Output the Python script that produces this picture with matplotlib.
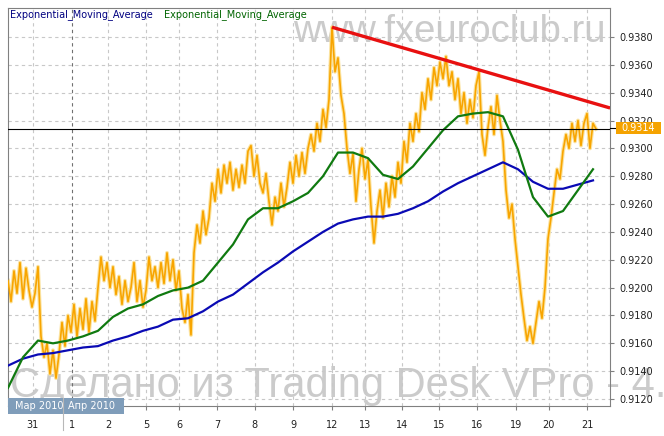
import numpy as np
import matplotlib
matplotlib.use('Agg')
import matplotlib.pyplot as plt
from matplotlib.patches import Rectangle

# close prices (one point per bar)
price = [
    0.9205, 0.9190, 0.9212, 0.9196, 0.9218, 0.9192, 0.9214, 0.9198, 0.9186, 0.9196,
    0.9215, 0.9165, 0.9150, 0.9160, 0.9138, 0.9155, 0.9135, 0.9152, 0.9175, 0.9158,
    0.9180, 0.9168, 0.9188, 0.9165, 0.9185, 0.9170, 0.9192, 0.9168, 0.9190, 0.9176,
    0.9200, 0.9222, 0.9205, 0.9218, 0.9200, 0.9215, 0.9195, 0.9208, 0.9188, 0.9205,
    0.9190, 0.9200, 0.9218, 0.9190, 0.9205, 0.9186, 0.9198, 0.9222, 0.9205, 0.9215,
    0.9200, 0.9218, 0.9203, 0.9225, 0.9205, 0.9220, 0.9198, 0.9212, 0.9185, 0.9175,
    0.9195, 0.9166, 0.9225, 0.9245, 0.9232, 0.9255, 0.9238, 0.9250, 0.9275, 0.9262,
    0.9285, 0.9268, 0.9288, 0.9275, 0.9290, 0.9270, 0.9285, 0.9272, 0.9288, 0.9275,
    0.9298, 0.9302, 0.9280, 0.9295, 0.9275, 0.9268, 0.9282, 0.9262, 0.9245, 0.9265,
    0.9255, 0.9275, 0.9258, 0.9272, 0.9290, 0.9275, 0.9295, 0.9280, 0.9297, 0.9282,
    0.9300, 0.9310, 0.9298, 0.9318, 0.9305, 0.9328, 0.9315, 0.9335, 0.9387, 0.9355,
    0.9365, 0.9338, 0.9325, 0.9300, 0.9282, 0.9296, 0.9262, 0.9285, 0.9300, 0.9278,
    0.9292, 0.9258, 0.9232, 0.9255, 0.9270, 0.9250, 0.9275, 0.9258, 0.9280, 0.9265,
    0.9290, 0.9275, 0.9305, 0.9290, 0.9318, 0.9305, 0.9325, 0.9312, 0.9340, 0.9328,
    0.9350, 0.9335, 0.9358, 0.9345, 0.9362, 0.9350, 0.9366, 0.9345, 0.9355, 0.9335,
    0.9350, 0.9325, 0.9340, 0.9318, 0.9335, 0.9322, 0.9345, 0.9355, 0.9310, 0.9295,
    0.9315, 0.9330, 0.9310, 0.9338, 0.9320, 0.9305, 0.9270, 0.9250, 0.9260, 0.9235,
    0.9215, 0.9195, 0.9178, 0.9162, 0.9172, 0.9160, 0.9175, 0.9190, 0.9178, 0.9200,
    0.9235, 0.9250, 0.9268, 0.9285, 0.9278, 0.9298, 0.9310, 0.9300, 0.9318, 0.9305,
    0.9320, 0.9302, 0.9318, 0.9325, 0.9300, 0.9318, 0.9314,
]

# EMA values, every 5 bars
ema_slow = [
    0.9144, 0.9149, 0.9152, 0.9153, 0.9155, 0.9157, 0.9158, 0.9162, 0.9165, 0.9169,
    0.9172, 0.9177, 0.9178, 0.9183, 0.9190, 0.9195, 0.9203, 0.9211, 0.9218, 0.9226,
    0.9233, 0.9240, 0.9246, 0.9249, 0.9251, 0.9251, 0.9253, 0.9257, 0.9262, 0.9269,
    0.9275, 0.9280, 0.9285, 0.9290, 0.9285, 0.9276, 0.9271, 0.9271, 0.9274, 0.9277,
]
ema_fast = [
    0.9128, 0.9150, 0.9162, 0.9160, 0.9162, 0.9165, 0.9169, 0.9179, 0.9185, 0.9188,
    0.9194, 0.9198, 0.9200, 0.9205, 0.9218, 0.9231, 0.9249, 0.9257, 0.9257, 0.9262,
    0.9268, 0.9280, 0.9297, 0.9297, 0.9293, 0.9281, 0.9278, 0.9287, 0.9300, 0.9313,
    0.9323, 0.9325, 0.9326, 0.9323, 0.9299, 0.9265, 0.9251, 0.9255, 0.9270, 0.9285,
]
ema_step = 5

# trend line (bar, price)
trend_x = [108, 200.7]
trend_y = [0.9387, 0.9329]
last_price = 0.9314

day_labels = ['31', '1', '2', '5', '6', '7', '8', '9', '12', '13', '14', '15', '16', '19', '20', '21']
day_pos = [8.3, 21.3, 33.3, 46, 57, 69.8, 82.2, 95, 108, 119, 131.5, 143.8, 156.5, 169.2, 180.2, 193]
price_ticks = [0.9120, 0.9140, 0.9160, 0.9180, 0.9200, 0.9220, 0.9240, 0.9260,
               0.9280, 0.9300, 0.9320, 0.9340, 0.9360, 0.9380]

W, H = 664, 436
fig = plt.figure(figsize=(W / 100, H / 100), dpi=100)
fig.patch.set_facecolor('white')
ax = fig.add_axes([8 / W, 30 / H, 602 / W, 398 / H])
ax.patch.set_alpha(0)

# watermarks behind the axes
fig.text(293 / W, 1 - 42 / H, 'www.fxeuroclub.ru', fontsize=27.5, family='Liberation Sans',
         color='#cbcbcb', va='baseline', ha='left', zorder=-1)
fig.text(10 / W, 1 - 397 / H, 'Сделано из Trading Desk VPro - 4.', fontsize=30,
         family='Liberation Sans', color='#cbcbcb', va='baseline', ha='left', zorder=-1)

x = np.arange(len(price))
ax.plot(x, price, color='#fbe3a0', lw=2.8, zorder=2)
ax.plot(x, price, color='#f8a500', lw=1.2, zorder=3)
xe = np.arange(len(ema_slow)) * ema_step
ax.plot(xe, ema_slow, color='#0a0ab4', lw=1.6, zorder=4)
ax.plot(xe, ema_fast, color='#107a10', lw=1.6, zorder=4)
ax.axhline(last_price, color='black', lw=0.8, zorder=4)
ax.plot(trend_x, trend_y, color='#e81010', lw=2.4, solid_capstyle='butt', zorder=5)

ax.set_xlim(0, 200.67)
ax.set_ylim(0.91150, 0.94008)
ax.set_yticks(price_ticks)
ax.set_yticklabels(['%.4f' % v for v in price_ticks])
ax.yaxis.tick_right()
ax.set_xticks(day_pos)
ax.set_xticklabels(day_labels)

ax.grid(True, color='#c8c8c8', linestyle=(0, (3, 3)), linewidth=0.8, zorder=1)
ax.get_xgridlines()[1].set_color('#707070')
ax.tick_params(axis='y', length=3, width=0.8, color='#808080', labelsize=7,
               labelcolor='#202020', pad=4)
ax.tick_params(axis='x', length=3, width=0.8, color='#808080', labelsize=7,
               labelcolor='#202020', pad=7)
for s in ax.spines.values():
    s.set_color('#808080')
    s.set_linewidth(0.8)

# legend labels
fig.text(10 / W, 1 - 15 / H, 'Exponential_Moving_Average', color='#000080', fontsize=7, va='center')
fig.text(164 / W, 1 - 15 / H, 'Exponential_Moving_Average', color='#006400', fontsize=7, va='center')

# current price label
fig.add_artist(plt.Line2D([610 / W, 616 / W], [1 - 128 / H, 1 - 128 / H], color='black',
                          lw=0.8, transform=fig.transFigure, zorder=5))
fig.patches.append(Rectangle((616 / W, 1 - 134 / H), 45 / W, 12 / H, transform=fig.transFigure,
                             facecolor='#f5a300', edgecolor='none', zorder=5))
fig.text(638 / W, 1 - 128 / H, '%.4f' % last_price, color='white', fontsize=7,
         ha='center', va='center', zorder=6)

# month boxes
fig.patches.append(Rectangle((8 / W, 1 - 414 / H), 60 / W, 16 / H, transform=fig.transFigure,
                             facecolor='#7f9dba', edgecolor='none', zorder=5))
fig.text(15 / W, 1 - 406 / H, 'Мар 2010', color='white', fontsize=7, va='center', zorder=6)
fig.patches.append(Rectangle((63 / W, 1 - 414 / H), 61 / W, 16 / H, transform=fig.transFigure,
                             facecolor='#7f9dba', edgecolor='none', zorder=7))
fig.text(68 / W, 1 - 406 / H, 'Апр 2010', color='white', fontsize=7, va='center', zorder=8)
fig.add_artist(plt.Line2D([62.5 / W, 62.5 / W], [1 - 430 / H, 1 - 398 / H], color='#b8b8b8',
                          lw=0.8, transform=fig.transFigure, zorder=9))

fig.savefig('out.png', dpi=100)
